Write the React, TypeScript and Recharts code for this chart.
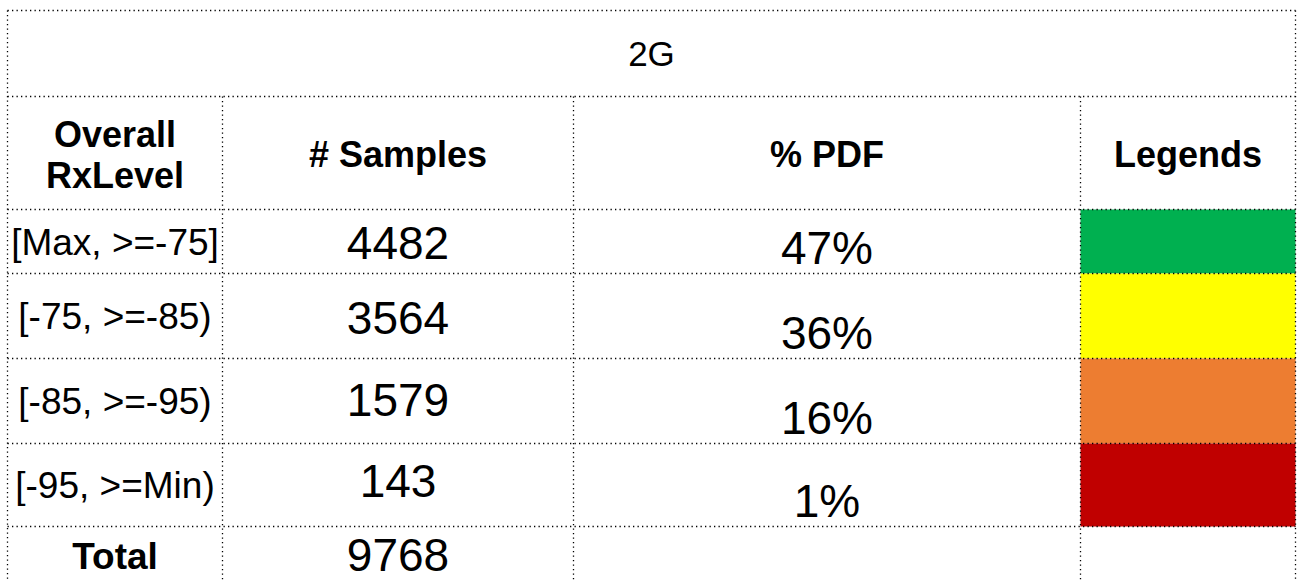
import React from 'react';
import { ComposedChart, XAxis, YAxis, ReferenceArea, ReferenceLine } from 'recharts';

// ---------- data ----------
const TITLE = '2G';
const headerLabels = [['Overall', 'RxLevel'], ['# Samples'], ['% PDF'], ['Legends']];
const rxLevelRanges = ['[Max, >=-75]', '[-75, >=-85)', '[-85, >=-95)', '[-95, >=Min)'];
const sampleCounts = [4482, 3564, 1579, 143];
const pdfPercent = [47, 36, 16, 1];
const totalLabel = 'Total';
const totalSamples = 9768;
const legendColors = ['#00B050', '#FFFF00', '#ED7D31', '#C00000'];

// ---------- layout (table units == pixels) ----------
const W = 1297;
const H = 582;
const COL_X = [7.5, 222.5, 573.5, 1080.5, 1295.5];
const ROW_Y = [10.5, 96.5, 209.5, 273.5, 358.5, 443.5, 526.5, 600];
const SAMPLE_DY = [17.5, 17.5, 15, 12];
const FONT = '"Liberation Sans", Arial, Helvetica, sans-serif';
const LINE = { stroke: '#000', strokeWidth: 1.3, strokeDasharray: '1.3 3.2' };

type TextSpec = {
  lines: string[];
  size: number;
  bold?: boolean;
  dy: number;
  anchor?: 'center' | 'bottom';
  gap?: number;
};

const textLabel = (spec: TextSpec) => (props: any) => {
  const vb = props.viewBox || { x: 0, y: 0, width: 0, height: 0 };
  const cx = vb.x + vb.width / 2;
  const ref = spec.anchor === 'bottom' ? vb.y + vb.height : vb.y + vb.height / 2;
  const n = spec.lines.length;
  const gap = spec.gap ?? spec.size * 1.1;
  const first = ref + spec.dy - ((n - 1) * gap) / 2;
  return (
    <text
      x={cx}
      y={first}
      textAnchor="middle"
      fontFamily={FONT}
      fontSize={spec.size}
      fontWeight={spec.bold ? 'bold' : 'normal'}
      fill="#000"
    >
      {spec.lines.map((l, i) => (
        <tspan key={i} x={cx} y={first + i * gap}>
          {l}
        </tspan>
      ))}
    </text>
  );
};

const rows = rxLevelRanges.map((r, i) => ({
  range: r,
  samples: sampleCounts[i],
  pdf: pdfPercent[i],
  color: legendColors[i],
}));

export default function App() {
  const cells: React.ReactNode[] = [];

  // title
  cells.push(
    <ReferenceArea
      key="title"
      x1={COL_X[0]}
      x2={COL_X[4]}
      y1={ROW_Y[0]}
      y2={ROW_Y[1]}
      fill="none"
      fillOpacity={0}
      ifOverflow="visible"
      label={textLabel({ lines: [TITLE], size: 35, dy: 12 })}
    />
  );

  // header
  headerLabels.forEach((h, c) => {
    cells.push(
      <ReferenceArea
        key={'h' + c}
        x1={COL_X[c]}
        x2={COL_X[c + 1]}
        y1={ROW_Y[1]}
        y2={ROW_Y[2]}
        fill="none"
        fillOpacity={0}
        ifOverflow="visible"
        label={textLabel({ lines: h, size: 36, bold: true, dy: h.length > 1 ? 14.5 : 14, gap: 41 })}
      />
    );
  });

  // body rows
  rows.forEach((row, r) => {
    const y1 = ROW_Y[2 + r];
    const y2 = ROW_Y[3 + r];
    cells.push(
      <ReferenceArea
        key={'l' + r}
        x1={COL_X[0]}
        x2={COL_X[1]}
        y1={y1}
        y2={y2}
        fill="none"
        fillOpacity={0}
        ifOverflow="visible"
        label={textLabel({ lines: [row.range], size: 37, dy: 13 })}
      />,
      <ReferenceArea
        key={'s' + r}
        x1={COL_X[1]}
        x2={COL_X[2]}
        y1={y1}
        y2={y2}
        fill="none"
        fillOpacity={0}
        ifOverflow="visible"
        label={textLabel({ lines: [String(row.samples)], size: 46, dy: SAMPLE_DY[r] })}
      />,
      <ReferenceArea
        key={'p' + r}
        x1={COL_X[2]}
        x2={COL_X[3]}
        y1={y1}
        y2={y2}
        fill="none"
        fillOpacity={0}
        ifOverflow="visible"
        label={textLabel({ lines: [row.pdf + '%'], size: 46, dy: -10, anchor: 'bottom' })}
      />,
      <ReferenceArea
        key={'c' + r}
        x1={COL_X[3]}
        x2={COL_X[4]}
        y1={y1}
        y2={y2}
        fill={row.color}
        fillOpacity={1}
        stroke="none"
        ifOverflow="visible"
      />
    );
  });

  // total row
  cells.push(
    <ReferenceArea
      key="tl"
      x1={COL_X[0]}
      x2={COL_X[1]}
      y1={ROW_Y[6]}
      y2={ROW_Y[7]}
      fill="none"
      fillOpacity={0}
      ifOverflow="visible"
      label={textLabel({ lines: [totalLabel], size: 37, bold: true, dy: 6 })}
    />,
    <ReferenceArea
      key="ts"
      x1={COL_X[1]}
      x2={COL_X[2]}
      y1={ROW_Y[6]}
      y2={ROW_Y[7]}
      fill="none"
      fillOpacity={0}
      ifOverflow="visible"
      label={textLabel({ lines: [String(totalSamples)], size: 46, dy: 7.5 })}
    />
  );

  // grid lines
  const lines: React.ReactNode[] = [];
  ROW_Y.slice(0, 7).forEach((y, i) => {
    lines.push(
      <ReferenceLine
        key={'hy' + i}
        segment={[
          { x: COL_X[0], y },
          { x: COL_X[4], y },
        ]}
        ifOverflow="visible"
        {...LINE}
      />
    );
  });
  COL_X.forEach((x, i) => {
    const top = i === 0 || i === COL_X.length - 1 ? ROW_Y[0] : ROW_Y[1];
    lines.push(
      <ReferenceLine
        key={'vx' + i}
        segment={[
          { x, y: top },
          { x, y: H },
        ]}
        ifOverflow="visible"
        {...LINE}
      />
    );
  });

  return (
    <div style={{ position: 'absolute', left: 0, top: 0, width: W, height: H, overflow: 'hidden', background: '#fff' }}>
      <ComposedChart width={W} height={H} data={rows} margin={{ top: 0, right: 0, bottom: 0, left: 0 }}>
        <XAxis type="number" dataKey="samples" domain={[0, W]} allowDataOverflow hide />
        <YAxis type="number" domain={[0, H]} allowDataOverflow reversed hide />
        {cells}
        {lines}
      </ComposedChart>
    </div>
  );
}
